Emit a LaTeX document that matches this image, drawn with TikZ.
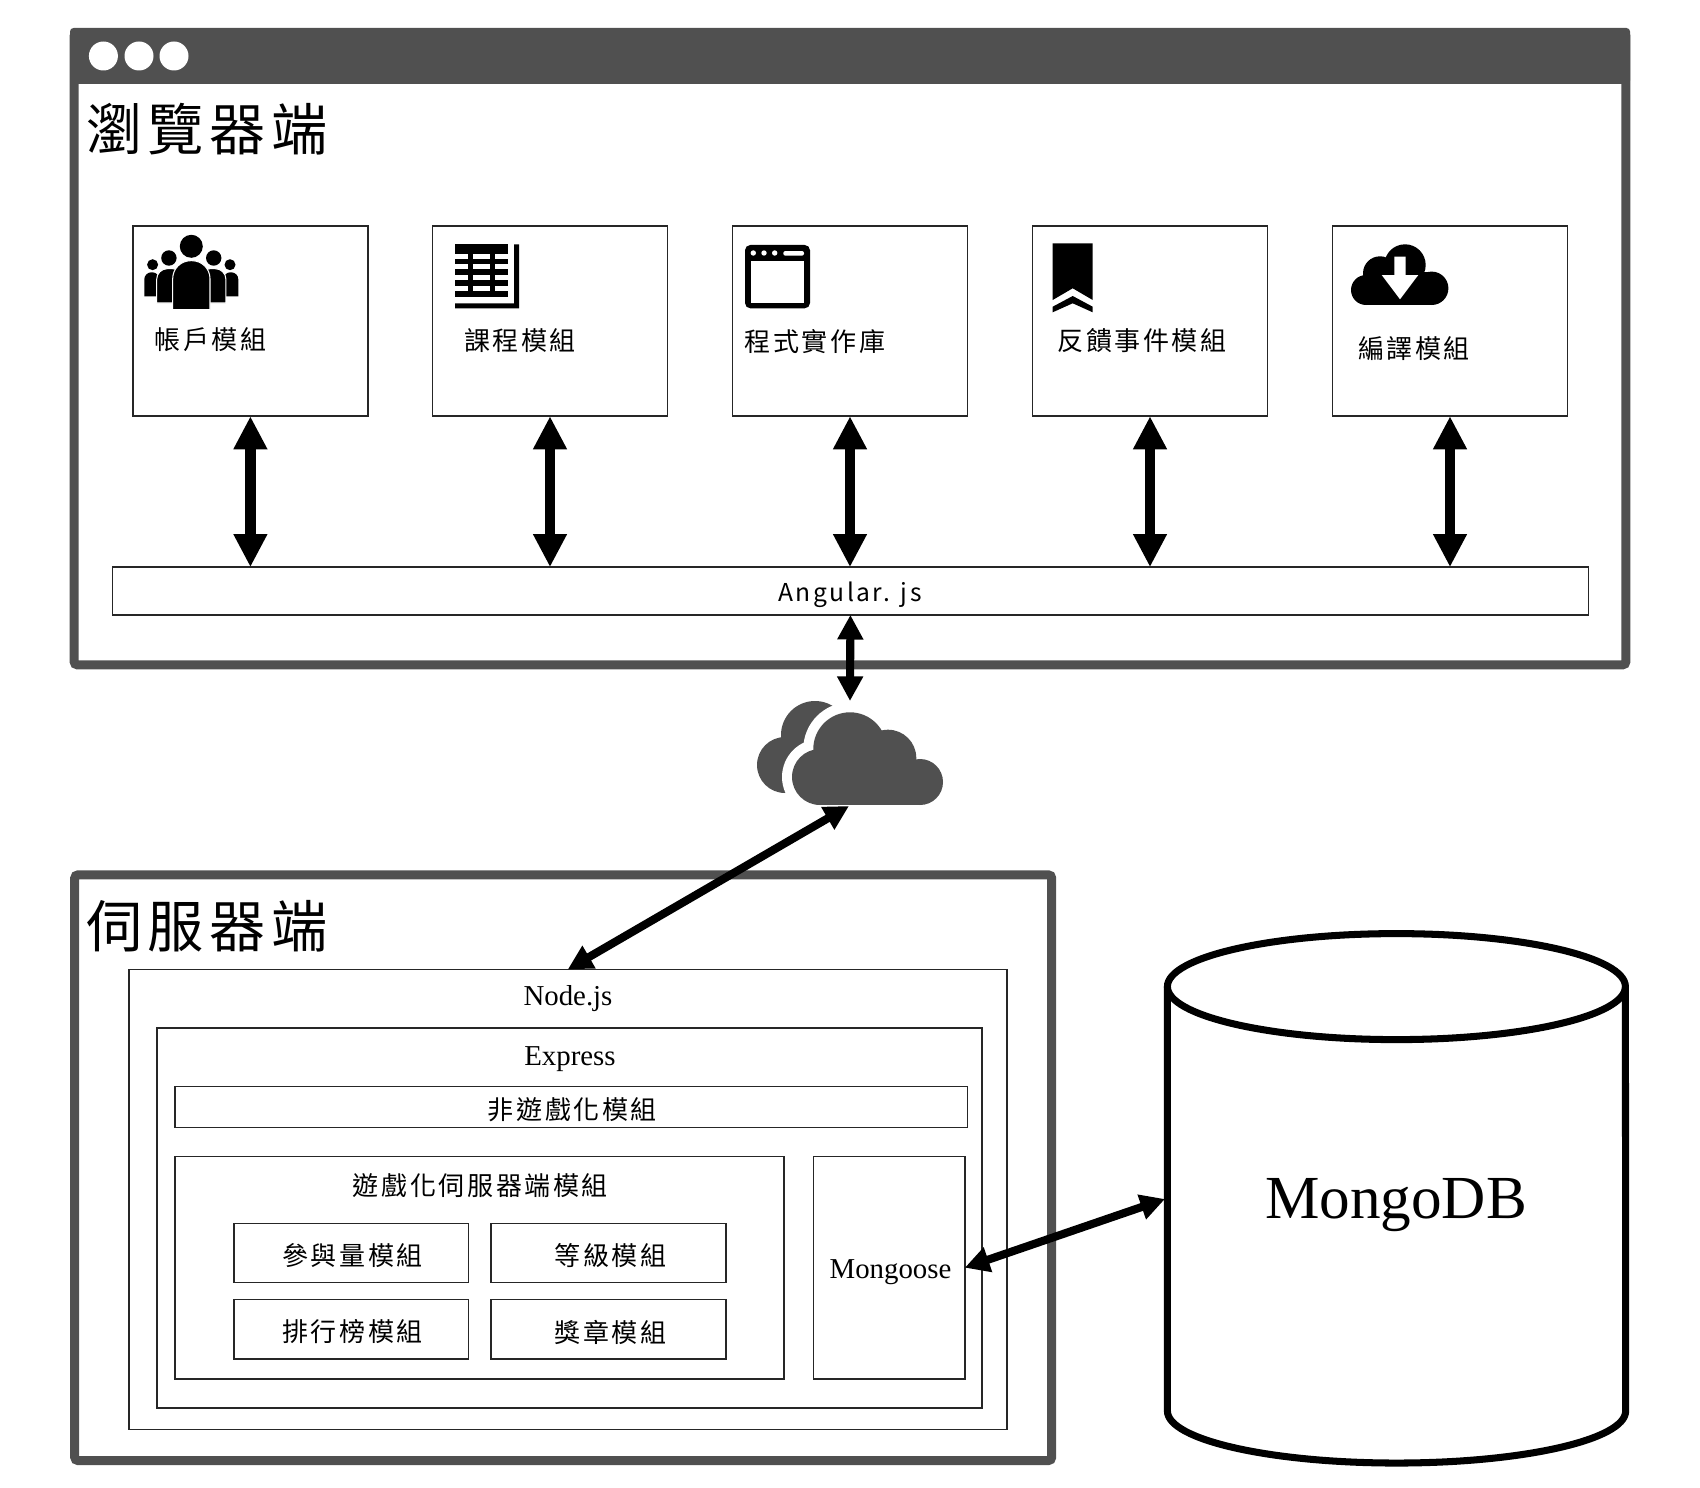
\documentclass[tikz,border=0pt]{standalone}
\usepackage{fontspec}
\setmainfont{Liberation Serif}
\newfontfamily\cjk[LetterSpace=10]{Noto Sans CJK TC}
\usetikzlibrary{arrows.meta}
\definecolor{framegray}{HTML}{505050}
\tikzset{
	framebox/.style={draw=framegray, line width=2.56pt, rounded corners=1pt, inner sep=0pt},
	box/.style={draw=black!85, line width=0.45pt, inner sep=0pt, outer sep=0pt},
	modbox/.style={box, minimum width=2.345cm, minimum height=1.903cm},
	gamebox/.style={box, minimum width=2.348cm, minimum height=0.59cm},
	bigarrow/.style={line width=3.1pt, {Triangle[length=9.4pt,width=9pt]}-{Triangle[length=9.4pt,width=9pt]}},
	thinarrow/.style={line width=2.3pt, {Triangle[length=7pt,width=7pt]}-{Triangle[length=7pt,width=7pt]}},
	modtext/.style={inner sep=0pt, font=\cjktext},
	headtext/.style={inner sep=0pt, font=\cjkhead},
	romantext/.style={inner sep=0pt, font=\fontsize{8.2}{10}\selectfont}
}
\newcommand{\cjktext}{\fontsize{7.4}{9}\selectfont\cjk}
\newcommand{\cjkhead}{\fontsize{16}{19}\selectfont\cjk}

\begin{document}
\begin{tikzpicture}[x=0.01cm, y=-0.01cm]
	\useasboundingbox (0,0) rectangle (1700,1488);

	% browser frame
	\node[framebox, minimum width=15.51cm, minimum height=6.317cm] (browser) at (850,348.9) {};
	\fill[framegray, rounded corners=1pt] (70,28) rectangle (1630,84);
	\foreach \dotx in {103.4,139,174} {
		\fill[white] (\dotx,56) circle[radius=14.5];
	}
	\node[headtext] (browsertitle) at (207,129) {瀏覽器端};

	\node[modbox] (account) at (250.4,321) {};
	\node[modbox] (course) at (550,321) {};
	\node[modbox] (repo) at (850,321) {};
	\node[modbox] (feedback) at (1150,321) {};
	\node[modbox] (translate) at (1450,321) {};

	\node[modtext] (accounttext) at (210.5,340) {帳戶模組};
	\node[modtext] (coursetext) at (520,340.5) {課程模組};
	\node[modtext] (repotext) at (815,342) {程式實作庫};
	\node[modtext] (feedbacktext) at (1142,341) {反饋事件模組};
	\node[modtext] (translatetext) at (1414,348.5) {編譯模組};

	\node[box, minimum width=14.75cm, minimum height=0.477cm] (angular) at (850.4,591) {};
	\node[inner sep=0pt, font=\fontsize{7}{9}\selectfont\cjk] (angulartext) at (850,594.5) {Angular. js};

	\foreach \mod in {account,course,repo,feedback,translate} {
		\draw[bigarrow] (\mod.south) -- (\mod.south |- angular.north);
	}

	% people
	\foreach \side in {-1,1} {
		\begin{scope}[shift={(191.3,0)}, xscale=\side]
			\fill (38.7,264.7) circle[radius=5.5];
			\fill (32,296.3) [rounded corners=2pt] -- (32,272.3) -- (47,272.3) [sharp corners] -- (47,296.3) -- cycle;
			\fill (22.4,258) circle[radius=7.7];
			\filldraw[draw=white, line width=0.3pt] (8,303) [rounded corners=3pt] -- (8,268.7) -- (34.6,268.7) [sharp corners] -- (34.6,303) -- cycle;
		\end{scope}
	}
	\fill (191.3,246.3) circle[radius=11.5];
	\filldraw[draw=white, line width=0.3pt] (172.7,309.7) [rounded corners=5.1pt] -- (172.7,260.7) -- (210,260.7) [sharp corners] -- (210,309.7) -- cycle;

	% table
	\fill (455,244.3) rectangle (508.3,296.7);
	\foreach \rowy in {254.3,264.3,275,285.7} {
		\fill[white] (455,\rowy) rectangle (468.3,\rowy+5);
		\fill[white] (473.3,\rowy) rectangle (490,\rowy+5);
		\fill[white] (495,\rowy) rectangle (508.3,\rowy+5);
	}
	\fill (514,244.3) -- (519,244.3) -- (519,308.3) -- (455,308.3) -- (455,303.3) -- (514,303.3) -- cycle;

	% window
	\fill[rounded corners=1.5pt] (745,245) rectangle (810,308.3);
	\fill[white] (751,261) rectangle (804,303.3);
	\foreach \dotx in {753.3,764,774.7} {
		\fill[white] (\dotx,253) circle[radius=2.7];
	}
	\fill[white, rounded corners=0.6pt] (783.3,251) rectangle (804,255.7);

	% bookmark
	\fill (1052.7,243.3) -- (1092.7,243.3) -- (1092.7,300) -- (1072.7,288.3) -- (1052.7,300) -- cycle;
	\fill (1052.7,306.7) -- (1072.7,296) -- (1092.7,306.7) -- (1092.7,312.3) -- (1072.7,303.3) -- (1052.7,312.3) -- cycle;

	% download cloud
	\foreach \cx/\cy/\cr in {1405/265/20.7,1380/273.3/17,1366/290/15,1431.7/288.3/16.7} {
		\fill (\cx,\cy) circle[radius=\cr];
	}
	\fill (1366,272) rectangle (1431.7,305);
	\fill[white] (1394.3,256.7) -- (1405.7,256.7) -- (1405.7,275) -- (1418.3,275) -- (1400,299.3) -- (1381.7,275) -- (1394.3,275) -- cycle;

	% network cloud
	\fill[framegray] (815,735) circle[radius=34];
	\fill[framegray] (785,765) circle[radius=28];
	\foreach \cx/\cy/\cr in {820/777/38,920/782/33,850/749/46.7,888/758/38.3} {
		\fill[white] (\cx,\cy) circle[radius=\cr];
	}
	\foreach \cx/\cy/\cr in {820/777/28,920/782/23,850/749/36.7,888/758/28.3} {
		\fill[framegray] (\cx,\cy) circle[radius=\cr];
	}
	\fill[framegray] (820,760) rectangle (920,805);
	\coordinate (cloudtop) at (850,701);
	\coordinate (cloudbase) at (849,806);
	\draw[thinarrow] (angular.south) -- (cloudtop);

	% server frame
	\node[framebox, minimum width=9.765cm, minimum height=5.855cm] (server) at (563.2,1167.7) {};
	\node[headtext] (servertitle) at (207,926) {伺服器端};

	\node[box, minimum width=8.775cm, minimum height=4.6cm] (nodejs) at (567.75,1199.5) {};
	\node[romantext] (nodejstext) at (568,999) {Node.js};
	\node[box, minimum width=8.245cm, minimum height=3.798cm] (express) at (569.75,1217.9) {};
	\node[romantext] (expresstext) at (570,1059) {Express};
	\node[box, minimum width=7.919cm, minimum height=0.41cm] (nongame) at (571.35,1107) {};
	\node[modtext] (nongametext) at (572.4,1109.5) {非遊戲化模組};
	\node[box, minimum width=6.082cm, minimum height=2.226cm] (gameserver) at (479.5,1267.7) {};
	\node[modtext] (gameservertext) at (480.5,1186) {遊戲化伺服器端模組};
	\node[box, minimum width=1.512cm, minimum height=2.226cm] (mongoose) at (889.1,1267.7) {};
	\node[romantext] (mongoosetext) at (890.5,1272) {Mongoose};

	\node[gamebox] (engage) at (351.2,1252.8) {};
	\node[gamebox] (level) at (608.5,1252.8) {};
	\node[gamebox] (rank) at (351.2,1329.2) {};
	\node[gamebox] (badge) at (608.5,1329.2) {};
	\node[modtext] (engagetext) at (352.5,1255.5) {參與量模組};
	\node[modtext] (leveltext) at (610.5,1255.5) {等級模組};
	\node[modtext] (ranktext) at (352.5,1332) {排行榜模組};
	\node[modtext] (badgetext) at (610.5,1332) {獎章模組};

	% database
	\draw[line width=2pt] (1396.4,986.6) ellipse[x radius=229, y radius=53];
	\draw[line width=2pt] (1167.4,986.6) -- (1167.4,1411) arc[start angle=180, end angle=360, x radius=2.29cm, y radius=0.52cm] -- (1625.4,986.6);
	\node[inner sep=0pt, anchor=base, font=\fontsize{17.4}{20}\selectfont] (mongodb) at (1396,1218) {MongoDB};
	\coordinate (dbside) at (1165,1199);

	\draw[thinarrow] (nodejs.north) -- (cloudbase);
	\draw[thinarrow] (mongoose.east) -- (dbside);
\end{tikzpicture}
\end{document}
